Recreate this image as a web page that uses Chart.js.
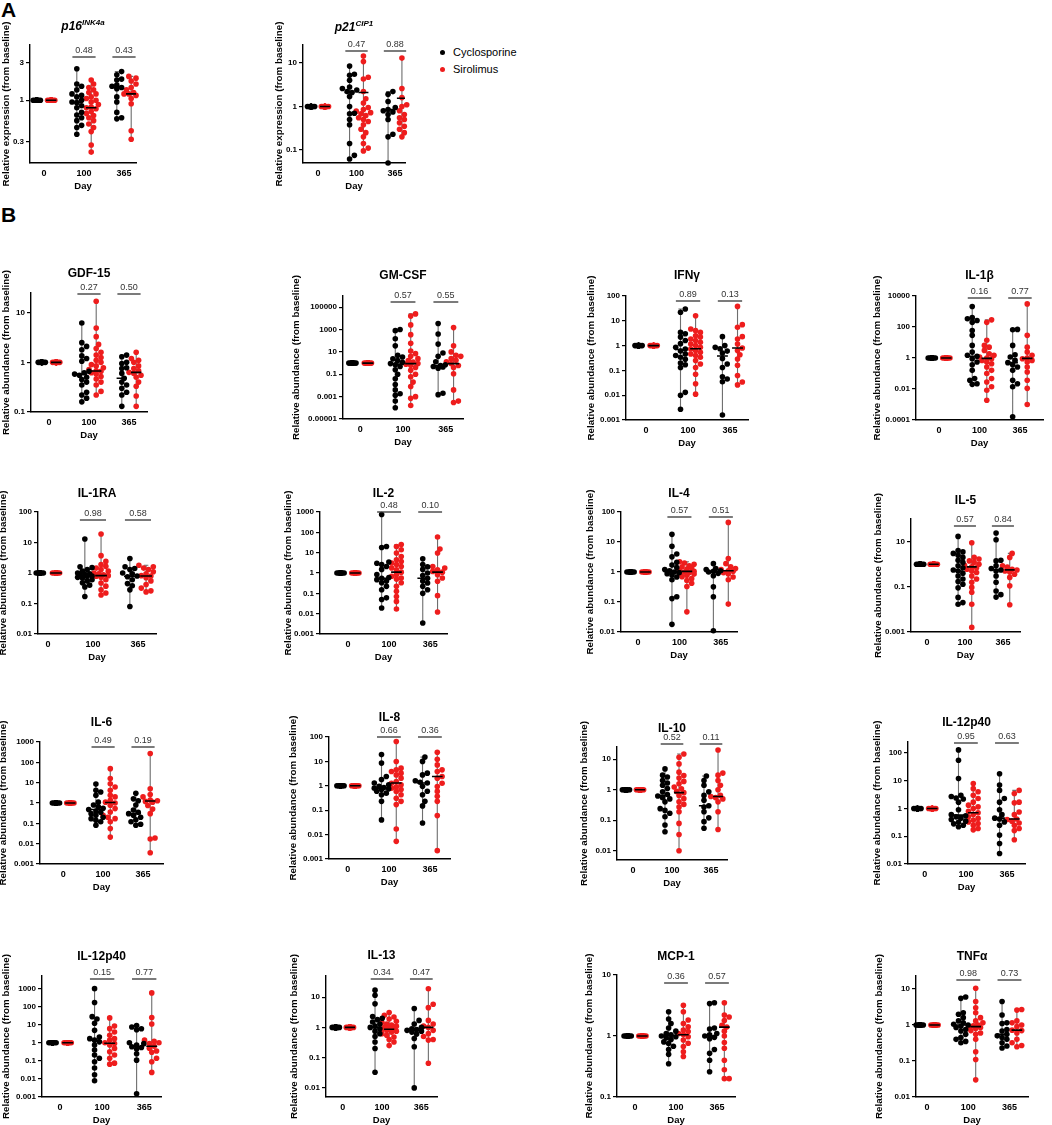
<!DOCTYPE html>
<html>
<head>
<meta charset="utf-8">
<script src="https://cdn.jsdelivr.net/npm/chart.js@4.4.1/dist/chart.umd.min.js"></script>
<style>
  body { margin: 0; background: #fff; font-family: "Liberation Sans", Arial, sans-serif; }
  #fig { position: relative; width: 1052px; height: 1125px; overflow: hidden; }
  #fig canvas { position: absolute; }
  .ttl { position: absolute; transform: translate(-50%, -50%); font-weight: bold; font-size: 12px; white-space: nowrap; z-index: 2; }
  .ttl sup { font-size: 8px; }
  .lab { position: absolute; font-weight: bold; font-size: 21px; }
  .leg { position: absolute; font-size: 11px; white-space: nowrap; }
  .dot { display: inline-block; width: 5px; height: 5px; border-radius: 50%; margin-right: 8px; vertical-align: middle; position: relative; top: -1px; }
</style>
</head>
<body>
<div id="fig">
  <div class="lab" style="left:1px;top:-2px">A</div>
  <div class="lab" style="left:1px;top:203px">B</div>
  <div class="leg" style="left:440px;top:46px"><span class="dot" style="background:#000"></span>Cyclosporine</div>
  <div class="leg" style="left:440px;top:63px"><span class="dot" style="background:#ee1d1d"></span>Sirolimus</div>
</div>
<script>
// x categories and baseline (every patient = 1 at day 0)
const DAYS = ['0', '100', '365'];
const BASELINE = [1, 1, 1, 1, 1, 1, 1, 1, 1, 1, 1, 1, 1, 1, 1, 1, 1, 1, 1, 1];

// ---- A: p16 ----
const p16_C100 = [2.5, 1.6, 1.5, 1.35, 1.2, 1.15, 1.1, 1.0, 0.95, 0.93, 0.85, 0.8, 0.7, 0.65, 0.6, 0.55, 0.48, 0.45, 0.37];
const p16_S100 = [1.8, 1.6, 1.45, 1.35, 1.25, 1.2, 1.1, 1.05, 1.0, 0.95, 0.88, 0.82, 0.8, 0.78, 0.72, 0.68, 0.64, 0.6, 0.55, 0.5, 0.45, 0.4, 0.27, 0.22];
const p16_C365 = [2.3, 2.1, 1.85, 1.8, 1.55, 1.5, 1.45, 1.4, 1.1, 0.95, 0.7, 0.6, 0.58];
const p16_S365 = [2.0, 1.9, 1.75, 1.6, 1.45, 1.35, 1.25, 1.2, 1.2, 1.15, 1.05, 0.9, 0.41, 0.32];
const p16_MID = [0.93, 0.8, 1.46, 1.2];
const p16_P = ['0.48', '0.43'];
const p16_TICKS = [0.3, 1, 3];

// ---- A: p21 ----
const p21_C100 = [8.5, 5.5, 5.2, 4.0, 2.8, 2.6, 2.4, 2.2, 2.1, 1.7, 1.0, 0.7, 0.68, 0.5, 0.38, 0.14, 0.075, 0.062];
const p21_S100 = [14.5, 10.8, 4.7, 4.3, 2.2, 1.5, 1.2, 0.95, 0.85, 0.78, 0.72, 0.68, 0.62, 0.55, 0.5, 0.45, 0.38, 0.3, 0.25, 0.2, 0.14, 0.11, 0.095];
const p21_C365 = [2.2, 1.9, 1.3, 0.95, 0.85, 0.8, 0.75, 0.65, 0.5, 0.23, 0.2, 0.05];
const p21_S365 = [13, 2.6, 1.6, 1.1, 1.0, 0.8, 0.65, 0.6, 0.55, 0.5, 0.42, 0.35, 0.3, 0.25, 0.2];
const p21_MID = [2.1, 2.1, 0.85, 1.55];
const p21_P = ['0.47', '0.88'];
const p21_TICKS = [0.1, 1, 10];

// ---- B ----
const gdf_C100 = [6.2, 2.5, 2.1, 1.8, 1.35, 1.2, 1.05, 0.66, 0.62, 0.58, 0.55, 0.5, 0.45, 0.4, 0.35, 0.25, 0.22, 0.19, 0.16];
const gdf_S100 = [17, 4.9, 3.3, 2.3, 1.9, 1.6, 1.4, 1.25, 1.1, 1.0, 0.9, 0.85, 0.78, 0.72, 0.68, 0.66, 0.62, 0.58, 0.52, 0.46, 0.4, 0.35, 0.26, 0.22];
const gdf_C365 = [1.4, 1.3, 1.0, 0.95, 0.78, 0.75, 0.6, 0.48, 0.4, 0.35, 0.3, 0.25, 0.22, 0.13];
const gdf_S365 = [1.6, 1.2, 1.1, 1.0, 0.85, 0.75, 0.68, 0.63, 0.6, 0.55, 0.5, 0.4, 0.33, 0.21, 0.13];
const gdf_MID = [0.58, 0.67, 0.48, 0.63];
const gdf_P = ['0.27', '0.50'];
const gdf_TICKS = [0.1, 1, 10];

const gm_C100 = [1000, 800, 150, 35, 5, 3.5, 2.4, 1.7, 1.2, 0.9, 0.7, 0.5, 0.25, 0.1, 0.04, 0.012, 0.004, 0.0018, 0.0013, 0.0004, 0.0001];
const gm_S100 = [25000, 16000, 2600, 350, 60, 12, 7, 4, 2.5, 1.7, 1.25, 0.9, 0.8, 0.63, 0.4, 0.23, 0.1, 0.06, 0.02, 0.008, 0.001, 0.0007, 0.00016];
const gm_C365 = [3500, 400, 50, 8, 4, 1.3, 0.7, 0.6, 0.5, 0.45, 0.35, 0.002, 0.0015];
const gm_S365 = [1500, 35, 10, 5, 4, 2.5, 1.8, 1.3, 0.9, 0.6, 0.4, 0.11, 0.004, 0.0004, 0.0003];
const gm_MID = [0.8, 0.9, 0.6, 0.9];
const gm_P = ['0.57', '0.55'];
const gm_TICKS = [0.00001, 0.001, 0.1, 10, 1000, 100000];

const ifn_C100 = [30, 22, 3.4, 3.0, 2.2, 1.6, 1.2, 0.85, 0.73, 0.6, 0.46, 0.4, 0.34, 0.28, 0.2, 0.17, 0.13, 0.013, 0.01, 0.0027];
const ifn_S100 = [16, 4.7, 4.0, 3.4, 2.5, 2.2, 1.85, 1.6, 1.35, 1.15, 1.0, 0.86, 0.73, 0.63, 0.54, 0.46, 0.4, 0.34, 0.25, 0.18, 0.13, 0.07, 0.029, 0.011];
const ifn_C365 = [2.3, 1.0, 0.85, 0.75, 0.6, 0.5, 0.3, 0.18, 0.13, 0.055, 0.045, 0.035, 0.0016];
const ifn_S365 = [38, 7, 5.5, 2.3, 1.85, 1.15, 0.8, 0.63, 0.43, 0.29, 0.16, 0.062, 0.034, 0.026];
const ifn_MID = [0.7, 0.75, 0.38, 0.8];
const ifn_P = ['0.89', '0.13'];
const ifn_TICKS = [0.001, 0.01, 0.1, 1, 10, 100];

const il1b_C100 = [2100, 400, 340, 260, 200, 60, 29, 6.5, 2.4, 1.5, 1.3, 0.9, 0.55, 0.37, 0.16, 0.047, 0.037, 0.022, 0.02];
const il1b_S100 = [290, 200, 14, 6.5, 5, 3.1, 1.9, 1.5, 1.15, 1.0, 0.9, 0.7, 0.55, 0.43, 0.26, 0.16, 0.1, 0.047, 0.028, 0.014, 0.0083, 0.0019];
const il1b_C365 = [70, 66, 6.5, 1.6, 1.15, 0.7, 0.5, 0.37, 0.26, 0.16, 0.037, 0.022, 0.014, 0.00016];
const il1b_S365 = [3100, 29, 5, 2.4, 1.5, 1.0, 0.9, 0.7, 0.55, 0.26, 0.125, 0.037, 0.011, 0.001];
const il1b_MID = [1.3, 0.95, 0.5, 0.95];
const il1b_P = ['0.16', '0.77'];
const il1b_TICKS = [0.0001, 0.01, 1, 100, 10000];

const il1ra_C100 = [13, 1.6, 1.5, 1.3, 1.15, 1.0, 0.95, 0.9, 0.85, 0.8, 0.78, 0.72, 0.68, 0.6, 0.55, 0.48, 0.4, 0.35, 0.17];
const il1ra_S100 = [19, 3.7, 2.4, 1.9, 1.65, 1.45, 1.3, 1.15, 1.0, 0.95, 0.88, 0.82, 0.78, 0.72, 0.6, 0.47, 0.37, 0.28, 0.22, 0.19];
const il1ra_C365 = [3.0, 1.6, 1.4, 1.3, 1.0, 0.95, 0.8, 0.75, 0.6, 0.45, 0.38, 0.28, 0.08];
const il1ra_S365 = [1.8, 1.6, 1.45, 1.3, 1.1, 0.95, 0.82, 0.8, 0.7, 0.55, 0.42, 0.32, 0.26, 0.24];
const il1ra_MID = [0.8, 0.82, 0.78, 0.8];
const il1ra_P = ['0.98', '0.58'];
const il1ra_TICKS = [0.01, 0.1, 1, 10, 100];

const il2_C100 = [750, 20, 18, 3.5, 3.0, 2.6, 2.1, 1.5, 0.85, 0.6, 0.55, 0.47, 0.4, 0.33, 0.22, 0.15, 0.06, 0.05, 0.019];
const il2_S100 = [25, 20, 14, 9.6, 6.5, 4.5, 3.7, 3.1, 2.6, 2.1, 1.75, 1.45, 1.1, 0.83, 0.69, 0.57, 0.5, 0.33, 0.22, 0.125, 0.07, 0.04, 0.017];
const il2_C365 = [5, 2.6, 2.0, 1.5, 1.0, 0.75, 0.55, 0.4, 0.32, 0.22, 0.15, 0.1, 0.0035];
const il2_S365 = [59, 15, 9.6, 2.1, 1.75, 1.45, 1.2, 1.1, 0.83, 0.57, 0.39, 0.077, 0.012];
const il2_MID = [0.55, 1.1, 0.55, 1.1];
const il2_P = ['0.48', '0.10'];
const il2_TICKS = [0.001, 0.01, 0.1, 1, 10, 100, 1000];

const il4_C100 = [18, 7.2, 4.0, 3.2, 2.1, 1.7, 1.4, 1.2, 1.1, 1.0, 0.95, 0.88, 0.8, 0.68, 0.55, 0.15, 0.13, 0.018];
const il4_S100 = [2.2, 2.0, 1.8, 1.6, 1.5, 1.35, 1.25, 1.15, 1.05, 1.0, 0.95, 0.9, 0.85, 0.78, 0.7, 0.6, 0.52, 0.42, 0.33, 0.047];
const il4_C365 = [1.9, 1.3, 1.2, 1.1, 1.05, 1.0, 0.9, 0.75, 0.32, 0.15, 0.011];
const il4_S365 = [45, 2.8, 1.9, 1.5, 1.3, 1.2, 1.1, 1.05, 0.95, 0.85, 0.68, 0.55, 0.085];
const il4_MID = [1.05, 1.05, 1.0, 1.1];
const il4_P = ['0.57', '0.51'];
const il4_TICKS = [0.01, 0.1, 1, 10, 100];

const il5_C100 = [17, 4, 3.5, 3.0, 2.5, 2.0, 1.5, 1.2, 0.85, 0.7, 0.55, 0.5, 0.4, 0.3, 0.22, 0.17, 0.13, 0.09, 0.034, 0.02, 0.017];
const il5_S100 = [8.9, 2.0, 1.7, 1.4, 1.2, 1.0, 0.9, 0.76, 0.7, 0.6, 0.5, 0.43, 0.3, 0.22, 0.16, 0.094, 0.057, 0.017, 0.0016];
const il5_C365 = [24, 12, 1.5, 1.4, 0.85, 0.65, 0.55, 0.5, 0.3, 0.16, 0.065, 0.045, 0.035];
const il5_S365 = [3.0, 2.0, 0.85, 0.75, 0.6, 0.55, 0.5, 0.45, 0.36, 0.26, 0.11, 0.016];
const il5_MID = [0.5, 0.76, 0.55, 0.56];
const il5_P = ['0.57', '0.84'];
const il5_TICKS = [0.001, 0.1, 10];

const il6_C100 = [8.5, 4.2, 3.5, 2.4, 1.1, 0.8, 0.65, 0.55, 0.48, 0.4, 0.35, 0.3, 0.25, 0.2, 0.17, 0.14, 0.12, 0.08];
const il6_S100 = [49, 16, 8.9, 6.1, 4.2, 2.4, 2.0, 1.35, 1.1, 1.0, 0.77, 0.53, 0.36, 0.25, 0.2, 0.17, 0.12, 0.055, 0.021];
const il6_C365 = [3.0, 1.6, 1.3, 0.8, 0.45, 0.35, 0.3, 0.25, 0.2, 0.15, 0.12, 0.09, 0.08];
const il6_S365 = [270, 5, 2.6, 2.0, 1.4, 1.3, 1.2, 1.1, 0.75, 0.5, 0.3, 0.019, 0.017, 0.0036];
const il6_MID = [0.48, 1.05, 0.3, 1.25];
const il6_P = ['0.49', '0.19'];
const il6_TICKS = [0.001, 0.01, 0.1, 1, 10, 100, 1000];

const il8_C100 = [19, 8.5, 2.4, 1.8, 1.3, 1.1, 0.95, 0.85, 0.8, 0.75, 0.7, 0.6, 0.5, 0.43, 0.23, 0.04];
const il8_S100 = [65, 9.9, 5.3, 4.5, 3.85, 3.3, 2.8, 2.06, 1.5, 1.28, 1.1, 0.9, 0.8, 0.7, 0.59, 0.43, 0.31, 0.23, 0.17, 0.017, 0.0053];
const il8_C365 = [15, 10, 3.3, 2.8, 1.6, 1.4, 1.3, 0.95, 0.6, 0.43, 0.23, 0.15, 0.03];
const il8_S365 = [23.7, 12.2, 7.2, 4.5, 3.85, 2.4, 2.06, 1.28, 0.94, 0.59, 0.37, 0.23, 0.06, 0.0022];
const il8_MID = [0.8, 1.3, 1.3, 2.4];
const il8_P = ['0.66', '0.36'];
const il8_TICKS = [0.001, 0.01, 0.1, 1, 10, 100];

const il10_C100 = [4.8, 3.0, 2.6, 2.0, 1.65, 1.4, 1.1, 0.85, 0.7, 0.62, 0.55, 0.5, 0.4, 0.24, 0.21, 0.17, 0.13, 0.07, 0.042];
const il10_S100 = [14.8, 11.5, 7, 3.75, 2.9, 2.4, 1.87, 1.57, 1.22, 1.08, 0.88, 0.8, 0.65, 0.51, 0.4, 0.33, 0.27, 0.19, 0.079, 0.034, 0.01];
const il10_C365 = [2.8, 2.0, 1.4, 0.85, 0.65, 0.45, 0.3, 0.27, 0.19, 0.12, 0.09, 0.055];
const il10_S365 = [20, 3.5, 3.0, 2.0, 1.4, 1.0, 0.65, 0.6, 0.55, 0.5, 0.4, 0.19, 0.05];
const il10_MID = [0.65, 0.8, 0.3, 0.6];
const il10_P = ['0.52', '0.11'];
const il10_TICKS = [0.01, 0.1, 1, 10];

const il12a_C100 = [130, 55, 12, 3.0, 2.7, 2.4, 2.2, 1.7, 0.9, 0.6, 0.55, 0.5, 0.45, 0.4, 0.35, 0.32, 0.28, 0.25, 0.22];
const il12a_S100 = [7.9, 5.2, 4.0, 3.0, 2.3, 1.7, 1.32, 1.15, 1.0, 0.8, 0.7, 0.61, 0.5, 0.44, 0.38, 0.33, 0.29, 0.25, 0.19, 0.17];
const il12a_C365 = [18, 7, 4.5, 2.3, 1.7, 0.9, 0.6, 0.45, 0.42, 0.33, 0.25, 0.11, 0.055, 0.024];
const il12a_S365 = [4.5, 3.5, 1.7, 1.6, 0.75, 0.6, 0.42, 0.4, 0.35, 0.3, 0.25, 0.19, 0.16, 0.075];
const il12a_MID = [0.58, 0.7, 0.45, 0.42];
const il12a_P = ['0.95', '0.63'];
const il12a_TICKS = [0.01, 0.1, 1, 10, 100];

const il12b_C100 = [1000, 170, 28, 21, 12, 4.9, 2.1, 1.7, 1.4, 1.13, 0.75, 0.4, 0.21, 0.14, 0.09, 0.04, 0.017, 0.008];
const il12b_S100 = [24, 8.4, 6.1, 4.0, 2.6, 1.7, 1.4, 1.0, 0.92, 0.75, 0.49, 0.32, 0.21, 0.14, 0.075, 0.066];
const il12b_C365 = [9, 7.5, 6, 5.3, 1.0, 0.9, 0.75, 0.6, 0.55, 0.45, 0.25, 0.11, 0.0015];
const il12b_S365 = [580, 25, 11, 1.4, 1.2, 1.0, 0.9, 0.65, 0.5, 0.35, 0.3, 0.14, 0.09, 0.023];
const il12b_MID = [1.4, 0.95, 0.6, 0.65];
const il12b_P = ['0.15', '0.77'];
const il12b_TICKS = [0.001, 0.01, 0.1, 1, 10, 100, 1000];

const il13_C100 = [17, 11.5, 6, 2.3, 2.0, 1.8, 1.5, 1.3, 1.1, 1.0, 0.9, 0.75, 0.62, 0.5, 0.33, 0.2, 0.033];
const il13_S100 = [3.1, 2.5, 2.2, 1.9, 1.6, 1.45, 1.3, 1.2, 1.1, 1.0, 0.95, 0.9, 0.85, 0.8, 0.75, 0.7, 0.62, 0.55, 0.48, 0.4, 0.33, 0.25];
const il13_C365 = [4.2, 1.7, 1.3, 1.0, 0.9, 0.85, 0.8, 0.75, 0.7, 0.6, 0.43, 0.23, 0.01];
const il13_S365 = [19, 5.8, 4.5, 1.7, 1.3, 1.1, 1.0, 0.8, 0.62, 0.5, 0.4, 0.38, 0.065];
const il13_MID = [1.0, 0.87, 0.8, 1.0];
const il13_P = ['0.34', '0.47'];
const il13_TICKS = [0.01, 0.1, 1, 10];

const mcp_C100 = [2.5, 1.9, 1.6, 1.35, 1.2, 1.1, 1.05, 1.0, 0.97, 0.93, 0.88, 0.8, 0.75, 0.68, 0.6, 0.5, 0.35];
const mcp_S100 = [3.2, 2.5, 1.83, 1.6, 1.42, 1.25, 1.18, 1.1, 1.06, 0.97, 0.86, 0.76, 0.67, 0.55, 0.46];
const mcp_C365 = [3.5, 3.4, 1.35, 1.3, 1.1, 1.05, 1.0, 0.95, 0.9, 0.6, 0.52, 0.4, 0.26];
const mcp_S365 = [3.5, 2.2, 2.05, 1.8, 1.5, 1.4, 1.2, 1.0, 0.78, 0.63, 0.4, 0.28, 0.2, 0.2];
const mcp_MID = [1.02, 1.05, 1.0, 1.4];
const mcp_P = ['0.36', '0.57'];
const mcp_TICKS = [0.1, 1, 10];

const tnf_C100 = [6.0, 5.5, 2.2, 2.0, 1.6, 1.3, 1.15, 1.05, 1.0, 0.92, 0.85, 0.75, 0.68, 0.55, 0.45, 0.4, 0.35, 0.32];
const tnf_S100 = [10.5, 4.5, 3.0, 2.2, 1.6, 1.3, 1.15, 1.0, 0.95, 0.9, 0.85, 0.8, 0.7, 0.6, 0.55, 0.4, 0.18, 0.11, 0.03];
const tnf_C365 = [4.5, 1.9, 1.15, 1.1, 0.75, 0.68, 0.55, 0.5, 0.45, 0.4, 0.32, 0.26, 0.23];
const tnf_S365 = [2.7, 2.6, 1.3, 1.15, 1.0, 0.9, 0.72, 0.7, 0.6, 0.4, 0.32, 0.27, 0.25];
const tnf_MID = [1.0, 0.9, 0.55, 0.72];
const tnf_P = ['0.98', '0.73'];
const tnf_TICKS = [0.01, 0.1, 1, 10];

const EXPR = 'Relative expression (from baseline)';
const ABUN = 'Relative abundance (from baseline)';

// panel: title, y label, groups, centre lines, p values, ticks, axis range
const PANELS = [
  { title: '<i>p16<sup>INK4a</sup></i>', y: EXPR, g: [p16_C100, p16_S100, p16_C365, p16_S365], mid: p16_MID, p: p16_P, ticks: p16_TICKS, lo: 0.16, hi: 5 },
  { title: '<i>p21<sup>CIP1</sup></i>', y: EXPR, g: [p21_C100, p21_S100, p21_C365, p21_S365], mid: p21_MID, p: p21_P, ticks: p21_TICKS, lo: 0.05, hi: 26 },
  { title: 'GDF-15', y: ABUN, g: [gdf_C100, gdf_S100, gdf_C365, gdf_S365], mid: gdf_MID, p: gdf_P, ticks: gdf_TICKS, lo: 0.1, hi: 25 },
  { title: 'GM-CSF', y: ABUN, g: [gm_C100, gm_S100, gm_C365, gm_S365], mid: gm_MID, p: gm_P, ticks: gm_TICKS, lo: 0.00001, hi: 1000000 },
  { title: 'IFNγ', y: ABUN, g: [ifn_C100, ifn_S100, ifn_C365, ifn_S365], mid: ifn_MID, p: ifn_P, ticks: ifn_TICKS, lo: 0.001, hi: 100 },
  { title: 'IL-1β', y: ABUN, g: [il1b_C100, il1b_S100, il1b_C365, il1b_S365], mid: il1b_MID, p: il1b_P, ticks: il1b_TICKS, lo: 0.0001, hi: 10000 },
  { title: 'IL-1RA', y: ABUN, g: [il1ra_C100, il1ra_S100, il1ra_C365, il1ra_S365], mid: il1ra_MID, p: il1ra_P, ticks: il1ra_TICKS, lo: 0.01, hi: 100 },
  { title: 'IL-2', y: ABUN, g: [il2_C100, il2_S100, il2_C365, il2_S365], mid: il2_MID, p: il2_P, ticks: il2_TICKS, lo: 0.001, hi: 1000 },
  { title: 'IL-4', y: ABUN, g: [il4_C100, il4_S100, il4_C365, il4_S365], mid: il4_MID, p: il4_P, ticks: il4_TICKS, lo: 0.01, hi: 100 },
  { title: 'IL-5', y: ABUN, g: [il5_C100, il5_S100, il5_C365, il5_S365], mid: il5_MID, p: il5_P, ticks: il5_TICKS, lo: 0.001, hi: 100 },
  { title: 'IL-6', y: ABUN, g: [il6_C100, il6_S100, il6_C365, il6_S365], mid: il6_MID, p: il6_P, ticks: il6_TICKS, lo: 0.001, hi: 1000 },
  { title: 'IL-8', y: ABUN, g: [il8_C100, il8_S100, il8_C365, il8_S365], mid: il8_MID, p: il8_P, ticks: il8_TICKS, lo: 0.001, hi: 100 },
  { title: 'IL-10', y: ABUN, g: [il10_C100, il10_S100, il10_C365, il10_S365], mid: il10_MID, p: il10_P, ticks: il10_TICKS, lo: 0.005, hi: 25 },
  { title: 'IL-12p40', y: ABUN, g: [il12a_C100, il12a_S100, il12a_C365, il12a_S365], mid: il12a_MID, p: il12a_P, ticks: il12a_TICKS, lo: 0.01, hi: 250 },
  { title: 'IL-12p40', y: ABUN, g: [il12b_C100, il12b_S100, il12b_C365, il12b_S365], mid: il12b_MID, p: il12b_P, ticks: il12b_TICKS, lo: 0.001, hi: 5000 },
  { title: 'IL-13', y: ABUN, g: [il13_C100, il13_S100, il13_C365, il13_S365], mid: il13_MID, p: il13_P, ticks: il13_TICKS, lo: 0.005, hi: 50 },
  { title: 'MCP-1', y: ABUN, g: [mcp_C100, mcp_S100, mcp_C365, mcp_S365], mid: mcp_MID, p: mcp_P, ticks: mcp_TICKS, lo: 0.1, hi: 10 },
  { title: 'TNFα', y: ABUN, g: [tnf_C100, tnf_S100, tnf_C365, tnf_S365], mid: tnf_MID, p: tnf_P, ticks: tnf_TICKS, lo: 0.01, hi: 23 }
];

// where each plot area sits on the page:
// [left, right, top, bottom, canvasLeft, titleY, xMin, xMax, bracketOffset]
const LAYOUT = [
  [30, 136, 45, 163, 0, 25, -0.35, 2.3, 12],
  [303, 405, 45, 163, 273, 26, -0.39, 2.26, 6],
  [31, 147, 293, 412, 0, 273, -0.45, 2.45, 1],
  [343, 463, 296, 419, 290, 275, -0.4, 2.4, 6],
  [626, 748, 296, 420, 585, 275, -0.48, 2.43, 5],
  [916, 1043, 296, 420, 871, 275, -0.57, 2.57, 2],
  [38, 156, 512, 634, -3, 493, -0.22, 2.4, 8],
  [320, 447, 512, 634, 282, 493, -0.68, 2.41, 0],
  [621, 737, 512, 632, 584, 493, -0.41, 2.39, 5],
  [911, 1020, 519, 632, 872, 500, -0.42, 2.45, 7],
  [40, 163, 742, 864, -3, 722, -0.58, 2.5, 5],
  [329, 450, 737, 859, 287, 717, -0.46, 2.49, 0],
  [617, 727, 747, 860, 578, 728, -0.41, 2.41, -3],
  [908, 1025, 742, 864, 871, 722, -0.41, 2.44, 1],
  [42, 161, 976, 1097, 0, 956, -0.43, 2.4, 3],
  [326, 437, 976, 1097, 288, 955, -0.43, 2.4, 3],
  [617, 735, 975, 1097, 583, 956, -0.44, 2.44, 8],
  [916, 1028, 976, 1097, 873, 956, -0.27, 2.45, 4]
];

const RED = '#ee1d1d';
const FONT = '"Liberation Sans", Arial, sans-serif';
const SIDE = 0.18, MED = 0.13, CAP = 0.05;
const TOP = 44, BOTTOM = 32;

// p-value brackets above each day pair
const pvalPlugin = {
  id: 'pvals',
  afterDraw(chart, args, opts) {
    if (!opts.values) return;
    const { ctx, chartArea, scales } = chart;
    const y = chartArea.top + opts.offset;
    ctx.save();
    ctx.strokeStyle = '#333';
    ctx.fillStyle = '#333';
    ctx.lineWidth = 1.3;
    ctx.font = '9px ' + FONT;
    ctx.textAlign = 'center';
    ctx.textBaseline = 'bottom';
    opts.values.forEach((p, k) => {
      const x0 = scales.x.getPixelForValue(k + 1 - 0.29);
      const x1 = scales.x.getPixelForValue(k + 1 + 0.29);
      ctx.beginPath();
      ctx.moveTo(x0, y);
      ctx.lineTo(x1, y);
      ctx.stroke();
      ctx.fillText(p, (x0 + x1) / 2, y - 1.5);
    });
    ctx.restore();
  }
};
Chart.register(pvalPlugin);

function median(a) {
  const s = [...a].sort((p, q) => p - q), m = s.length >> 1;
  return s.length % 2 ? s[m] : (s[m - 1] + s[m]) / 2;
}

// simple beeswarm: push overlapping dots sideways (pixel offsets)
function swarm(vals, toPx, maxOff, step) {
  const ys = vals.map(toPx);
  const idx = ys.map((_, i) => i).sort((a, b) => ys[a] - ys[b]);
  const placed = [], off = [];
  idx.forEach(i => {
    let best = 0, bestD = -1;
    for (let k = 0; Math.ceil(k / 2) * step <= maxOff + 0.01; k++) {
      const dx = (k % 2 ? 1 : -1) * Math.ceil(k / 2) * step;
      let d = Infinity;
      placed.forEach(p => { d = Math.min(d, Math.hypot(p[0] - dx, p[1] - ys[i])); });
      if (d >= 4.6) { best = dx; break; }
      if (d > bestD) { bestD = d; best = dx; }
    }
    placed.push([best, ys[i]]);
    off[i] = best;
  });
  return off;
}

const fig = document.getElementById('fig');

PANELS.forEach((P, n) => {
  const [L, R, T, B, cl, ty, xmin, xmax, bk] = LAYOUT[n];
  const llo = Math.log10(P.lo), lhi = Math.log10(P.hi);
  const toPx = v => (Math.log10(v) - llo) / (lhi - llo) * (B - T);
  const ppu = (R - L) / (xmax - xmin);

  const groups = [
    { vals: BASELINE, day: 0, side: 0, mid: median(BASELINE) },
    { vals: BASELINE, day: 0, side: 1, mid: median(BASELINE) },
    { vals: P.g[0], day: 1, side: 0, mid: P.mid[0] },
    { vals: P.g[1], day: 1, side: 1, mid: P.mid[1] },
    { vals: P.g[2], day: 2, side: 0, mid: P.mid[2] },
    { vals: P.g[3], day: 2, side: 1, mid: P.mid[3] }
  ];

  const pts = [[], []], whisk = [], meds = [];
  groups.forEach(g => {
    const cx = g.day + (g.side ? SIDE : -SIDE);
    const off = swarm(g.vals, toPx, g.day ? 7.2 : 3.6, g.day ? 2.4 : 1.8);
    g.vals.forEach((v, i) => pts[g.side].push({ x: cx + off[i] / ppu, y: v }));
    const mn = Math.min(...g.vals), mx = Math.max(...g.vals);
    if (mx > mn) {
      whisk.push({ x: cx, y: mn }, { x: cx, y: mx }, { x: cx, y: null },
        { x: cx - CAP, y: mn }, { x: cx + CAP, y: mn }, { x: cx, y: null },
        { x: cx - CAP, y: mx }, { x: cx + CAP, y: mx }, { x: cx, y: null });
    }
    meds.push({ x: cx - MED, y: g.mid }, { x: cx + MED, y: g.mid }, { x: cx, y: null });
  });

  const cv = document.createElement('canvas');
  cv.width = R + 6 - cl;
  cv.height = B - T + TOP + BOTTOM;
  cv.style.left = cl + 'px';
  cv.style.top = (T - TOP) + 'px';
  fig.appendChild(cv);

  const ttl = document.createElement('div');
  ttl.className = 'ttl';
  ttl.innerHTML = P.title;
  ttl.style.left = ((L + R) / 2) + 'px';
  ttl.style.top = ty + 'px';
  fig.appendChild(ttl);

  new Chart(cv, {
    type: 'scatter',
    data: {
      datasets: [
        { data: meds, showLine: true, borderColor: '#000', borderWidth: 1.6, pointRadius: 0, order: 0 },
        { label: 'Cyclosporine', data: pts[0], backgroundColor: '#000', pointRadius: 2.8, borderWidth: 0, order: 1, clip: false },
        { label: 'Sirolimus', data: pts[1], backgroundColor: RED, pointRadius: 2.8, borderWidth: 0, order: 1, clip: false },
        { data: whisk, showLine: true, borderColor: '#6e6e6e', borderWidth: 1.1, pointRadius: 0, order: 2 }
      ]
    },
    options: {
      responsive: false,
      animation: false,
      events: [],
      layout: { padding: { top: TOP, right: 6, left: 0, bottom: 0 } },
      plugins: {
        legend: { display: false },
        tooltip: { enabled: false },
        pvals: { values: P.p, offset: bk }
      },
      scales: {
        x: {
          type: 'linear', min: xmin, max: xmax,
          afterFit: s => { s.height = BOTTOM; },
          afterBuildTicks: s => { s.ticks = DAYS.map((d, i) => ({ value: i })); },
          ticks: { callback: v => DAYS[v], autoSkip: false, maxRotation: 0, padding: 1, color: '#000',
                   font: { family: FONT, size: 9, weight: 'bold' } },
          grid: { display: true, drawOnChartArea: false, color: 'rgba(0,0,0,0)', tickLength: 4 },
          border: { display: true, color: '#000', width: 1.4 },
          title: { display: true, text: 'Day', color: '#000', padding: { top: 0, bottom: 3 },
                   font: { family: FONT, size: 9.5, weight: 'bold' } }
        },
        y: {
          type: 'logarithmic', min: P.lo, max: P.hi,
          afterFit: s => { s.width = L - cl; },
          afterBuildTicks: s => { s.ticks = P.ticks.map(v => ({ value: v })); },
          ticks: { callback: v => String(v), autoSkip: false, padding: 2, color: '#000',
                   font: { family: FONT, size: 8, weight: 'bold' } },
          grid: { display: true, drawOnChartArea: false, color: '#000', lineWidth: 1.2, tickLength: 4 },
          border: { display: true, color: '#000', width: 1.4 },
          title: { display: true, text: P.y, color: '#000', padding: { top: 0, bottom: 0 },
                   font: { family: FONT, size: 9.8, weight: 'bold' } }
        }
      }
    }
  });
});
</script>
</body>
</html>
